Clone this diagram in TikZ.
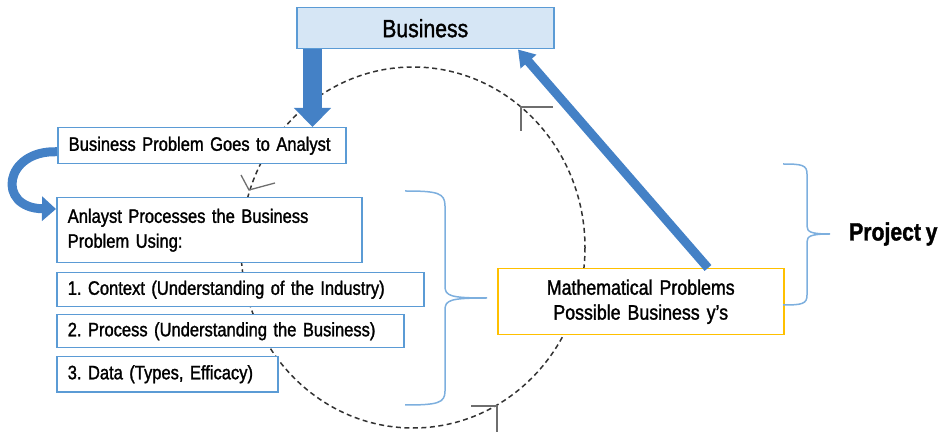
\documentclass[tikz,border=0pt]{standalone}
\usepackage{fontspec}
\setmainfont{Liberation Sans}[FakeStretch=0.85, WordSpace=0.8, FakeBold=1.4]
\usetikzlibrary{arrows.meta}
\definecolor{bordoblu}{RGB}{91,155,213}
\definecolor{frecciablu}{RGB}{68,129,198}
\definecolor{fondoblu}{RGB}{214,230,245}
\definecolor{bordogiallo}{RGB}{255,192,0}
\definecolor{graffa}{RGB}{125,175,222}
\definecolor{tratteggio}{RGB}{50,50,50}
\definecolor{segno}{RGB}{110,110,110}
\frenchspacing

\begin{document}
\begin{tikzpicture}[x=1bp, y=-1bp,
    box/.style={draw=bordoblu, line width=1.5bp, fill=white, anchor=north west,
      inner xsep=11bp, inner ysep=0bp, align=left, font=\fontsize{19.5}{25}\selectfont},
    fatarrow/.style={frecciablu, line width=19bp, -{Triangle[width=36bp,length=19bp]}},
    slimarrow/.style={frecciablu, line width=9bp, -{Triangle[width=20bp,length=16bp]}},
    brace/.style={graffa, line width=1.5bp},
    ciclo/.style={tratteggio, line width=1.5bp, dash pattern=on 5bp off 3.5bp},
    tick/.style={segno, line width=1.3bp}]
    \useasboundingbox (0,0) rectangle (941,434);

    % Ciclo tratteggiato
    \draw[ciclo] (413,247.5) ellipse [x radius=172, y radius=180.5];
    \draw[tick] (241,175) -- (249,190) -- (275,183);
    \draw[tick] (553,107) -- (521,107) -- (521,131);
    \draw[tick] (471,406) -- (497,406) -- (497,432);

    % Nodi
    \node[box, fill=fondoblu, text width=235bp, minimum height=41bp, align=center,
      font=\fontsize{25}{30}\selectfont] (biz) at (296,7) {Business};
    \node[box, text width=266bp, minimum height=36bp] (prob) at (57,127)
      {\mbox{Business Problem Goes to Analyst}};
    \node[box, text width=283bp, minimum height=65bp] (anl) at (56,197)
      {Anlayst Processes the Business\\Problem Using:};
    \node[box, text width=345bp, minimum height=34bp] (ctx) at (56,272)
      {1. Context (Understanding of the Industry)};
    \node[box, text width=325bp, minimum height=33bp] (proc) at (56,314)
      {2. Process (Understanding the Business)};
    \node[box, text width=199bp, minimum height=35bp] (data) at (56,356)
      {3. Data (Types, Efficacy)};
    \node[box, draw=bordogiallo, text width=264bp, minimum height=66bp, align=center,
      font=\fontsize{21}{25}\selectfont] (math) at (497,268)
      {Mathematical Problems\\Possible Business y's};
    \node[anchor=west, inner sep=0pt, font=\fontsize{25}{30}\selectfont\bfseries]
      (proj) at (849,234) {Project y};

    % Graffe
    \draw[brace] (405,191) .. controls (438,191) and (445,193) .. (445,206)
      -- (445,286) .. controls (445,296) and (450,298) .. (487,298)
      .. controls (450,298) and (445,300) .. (445,310)
      -- (445,391) .. controls (445,403) and (438,405) .. (405,405);
    \draw[brace] (783,164) .. controls (802,164) and (807,165) .. (807,174)
      -- (807,226) .. controls (807,232) and (811,234) .. (830,234)
      .. controls (811,234) and (807,236) .. (807,242)
      -- (807,295) .. controls (807,304) and (802,305) .. (783,305);

    % Archi
    \coordinate (drop) at (312.5,0);
    \coordinate (rise) at (708,0);
    \coordinate (back) at (518,0);
    \draw[fatarrow] (biz.south -| drop) -- (prob.north -| drop);
    \draw[slimarrow] (math.north -| rise) -- (biz.south -| back);
    \draw[frecciablu, line width=9bp, -{Triangle[width=24bp,length=14bp]}]
      ([yshift=-6bp]prob.west) .. controls (4,150) and (-4,208)
      .. ([yshift=-12bp]anl.north west);
  \end{tikzpicture}
\end{document}
